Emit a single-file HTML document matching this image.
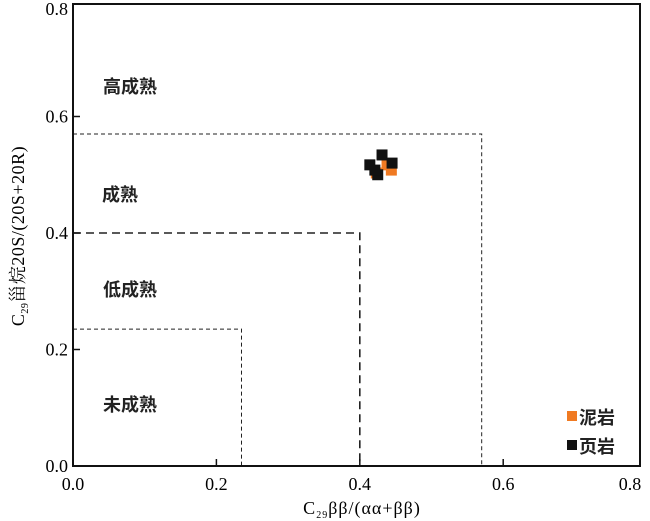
<!DOCTYPE html>
<html><head><meta charset="utf-8"><style>
body{margin:0;background:#fff}
svg{display:block;font-family:"Liberation Serif","Noto Serif CJK SC",serif}
.z{font-family:"Liberation Sans","Noto Sans CJK SC",sans-serif;font-weight:bold;font-size:18px;fill:#222}
</style></head><body>
<svg width="650" height="521">
<g id="zones"></g>
<g id="axes"></g>
<g id="pts"></g>
<text class="z" x="130" y="93" text-anchor="middle">高成熟</text>
<text class="z" x="120" y="201" text-anchor="middle">成熟</text>
<text class="z" x="130" y="296" text-anchor="middle">低成熟</text>
<text class="z" x="130" y="411" text-anchor="middle">未成熟</text>
<g>
<rect x="567" y="411" width="10" height="10" fill="#f07a22"/>
<text class="z" x="579" y="424">泥岩</text>
<rect x="567" y="440" width="10" height="10" fill="#111"/>
<text class="z" x="579" y="453">页岩</text>
</g>
<text x="362" y="514" font-size="18" letter-spacing="1" text-anchor="middle">C<tspan font-size="10" dy="4">29</tspan><tspan dy="-4">ββ/(αα+ββ)</tspan></text>
<text transform="translate(24,236) rotate(-90)" font-size="18" letter-spacing="0.5" text-anchor="middle">C<tspan font-size="10" dy="4">29</tspan><tspan dy="-4">甾烷20S/(20S+20R)</tspan></text>
</svg>
<script>
const xTicks=[0.0,0.2,0.4,0.6,0.8];
const yTicks=[0.0,0.2,0.4,0.6,0.8];
const zoneBounds=[0.235,0.40,0.57];
const mudX=[0.438,0.444,0.423];
const mudY=[0.517,0.508,0.503];
const shaleX=[0.431,0.414,0.445,0.425,0.421];
const shaleY=[0.534,0.517,0.520,0.500,0.508];
const NS="http://www.w3.org/2000/svg";
const X=v=>73+v*717, Y=v=>466-v*582.5;
function mk(tag,attrs,parent){const e=document.createElementNS(NS,tag);for(const k in attrs)e.setAttribute(k,attrs[k]);document.getElementById(parent).appendChild(e);return e;}
zoneBounds.forEach((b,i)=>{
 const p=mk('path',{d:`M${X(0)},${Y(b)} H${X(b)} V${Y(0)}`,fill:'none',stroke:'#222','stroke-width':i==1?1.6:1,'stroke-dasharray':i==1?'8,5':'4,3'},'zones');
 
 
});
const fr=mk('rect',{x:73,y:4,width:567,height:462,fill:'none',stroke:'#111','stroke-width':2},'axes');


xTicks.forEach(t=>{
 if(X(t)<638){
  const l=mk('line',{x1:X(t),x2:X(t),y1:466,y2:459,stroke:'#111','stroke-width':1.5},'axes');
  
  
 }
 const tx=mk('text',{x:Math.min(X(t),630),y:490,'font-size':18,'text-anchor':'middle'},'axes');
 tx.textContent=t.toFixed(1);
 
 
});
yTicks.forEach(t=>{
 if(Y(t)>6){
  const l=mk('line',{x1:73,x2:80,y1:Y(t),y2:Y(t),stroke:'#111','stroke-width':1.5},'axes');
  
  
 }
 const tx=mk('text',{x:68,y:Math.max(Y(t)+6,15),'font-size':18,'text-anchor':'end'},'axes');
 tx.textContent=t.toFixed(1);
 
 
});
mudX.forEach((v,i)=>{
 const r=mk('rect',{x:X(v)-5.5,y:Y(mudY[i])-5.5,width:11,height:11,fill:'#f07a22'},'pts');
 
 
});
shaleX.forEach((v,i)=>{
 const r=mk('rect',{x:X(v)-5.5,y:Y(shaleY[i])-5.5,width:11,height:11,fill:'#111'},'pts');
 
 
});
</script>
</body></html>
